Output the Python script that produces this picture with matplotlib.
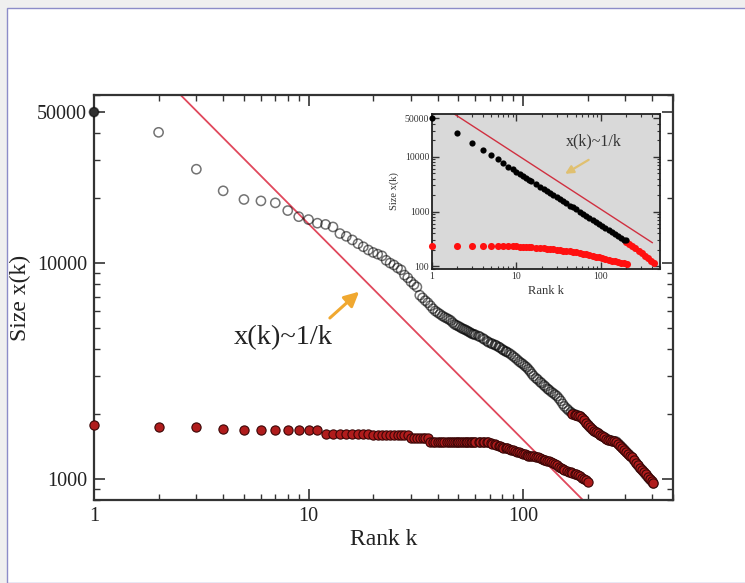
import numpy as np
import matplotlib.pyplot as plt
from matplotlib.patches import Rectangle
from matplotlib.ticker import NullFormatter, LogLocator

plt.rcParams['font.family'] = ['Liberation Serif', 'DejaVu Serif']

# main panel: ranks shared by both series
rank_head = [1, 2, 3, 4, 5, 6, 7, 8, 9, 10, 11, 12, 13, 14, 15, 16, 17, 18, 19, 20,
             21, 22, 23, 24, 25, 26, 27, 28, 29, 30, 31, 32, 33, 34, 35, 36, 37, 38, 39]
rank_body = [40, 41, 42, 43, 44, 45, 46, 47, 48, 49, 50, 51, 52, 53, 54, 55, 56, 57, 58,
             59, 60, 62, 63, 65, 66, 68, 69, 71, 72, 74, 75, 77, 78, 80, 81, 83, 84, 86,
             88, 90, 92, 94, 96, 98, 100, 102, 104, 106, 108, 110, 112, 115, 117, 120, 122,
             125, 127, 130, 132, 135, 138, 141, 144, 147, 150, 153, 156, 160, 163, 167, 170,
             174, 177, 181, 185, 189, 193, 197, 201]
rank_tail = [205, 210, 214, 219, 224, 229, 234, 239, 244, 250, 255, 261, 266, 272, 278,
             284, 290, 296, 302, 309, 315, 322, 329, 336, 343, 350, 358, 365, 373, 381,
             389, 397, 405]

# upper series (open circles)
size_up_head = [50000, 40300, 27200, 21600, 19700, 19400, 19000, 17500, 16400, 15900,
                15300, 15100, 14700, 13700, 13300, 12800, 12300, 11900, 11500, 11200,
                11000, 10800, 10300, 10000, 9800, 9500, 9300, 8800, 8550, 8200,
                7950, 7750, 7100, 6900, 6700, 6550, 6350, 6150, 6000]
size_up_body = [5900, 5800, 5700, 5620, 5560, 5490, 5420, 5300, 5200, 5150, 5100, 5040,
                4980, 4940, 4900, 4850, 4800, 4750, 4700, 4680, 4650, 4590, 4560, 4480,
                4430, 4350, 4300, 4250, 4220, 4180, 4150, 4090, 4060, 3990, 3950, 3900,
                3880, 3830, 3770, 3700, 3640, 3570, 3500, 3450, 3400, 3340, 3290, 3220,
                3150, 3070, 3000, 2930, 2890, 2820, 2780, 2720, 2680, 2620, 2590, 2540,
                2500, 2460, 2420, 2360, 2300, 2230, 2170, 2120, 2080, 2040, 2010, 1990,
                1980, 1965, 1950, 1910, 1870, 1820, 1780]
size_up_tail = [1740, 1700, 1670, 1650, 1630, 1600, 1580, 1560, 1540, 1520, 1510, 1500,
                1495, 1490, 1460, 1430, 1400, 1370, 1340, 1310, 1285, 1260, 1225, 1190,
                1160, 1130, 1105, 1080, 1050, 1025, 1000, 980, 955]
red_from = 170   # upper points from this rank on are drawn red

# lower series (filled red)
size_low_head = [1780, 1740, 1740, 1700, 1690, 1690, 1690, 1690, 1690, 1690,
                 1680, 1620, 1620, 1620, 1620, 1620, 1620, 1620, 1620, 1600,
                 1600, 1600, 1600, 1600, 1600, 1600, 1600, 1600, 1600, 1550,
                 1550, 1550, 1550, 1550, 1550, 1550, 1490, 1490, 1490]
size_low_body = [1490, 1490, 1490, 1490, 1490, 1490, 1490, 1490, 1490, 1490, 1490, 1490,
                 1490, 1490, 1490, 1490, 1490, 1490, 1490, 1490, 1490, 1490, 1490, 1490,
                 1490, 1485, 1480, 1470, 1460, 1450, 1440, 1430, 1420, 1410, 1400, 1395,
                 1390, 1380, 1370, 1360, 1350, 1340, 1330, 1320, 1310, 1300, 1290, 1285,
                 1280, 1278, 1275, 1270, 1265, 1250, 1240, 1230, 1220, 1215, 1210, 1200,
                 1190, 1175, 1160, 1140, 1120, 1110, 1100, 1090, 1080, 1075, 1070, 1060,
                 1050, 1040, 1030, 1015, 1000, 985, 965]

# fitted 1/k guide line (end points)
fit_k = [2.0, 200]
fit_x = [76000, 760]

# inset data
in_rank_black = [1, 2, 3, 4, 5, 6, 7, 8, 9, 10, 11, 12, 13, 14, 15, 17, 19, 21, 23, 25,
                 27, 30, 33, 36, 39, 43, 47, 51, 56, 61, 67, 73, 80, 87, 95, 104, 113,
                 123, 134, 146, 159, 173, 188, 197]
in_size_black = [50000, 27600, 18100, 13200, 10700, 9040, 7540, 6600, 5900, 5300,
                 4850, 4450, 4120, 3830, 3580, 3170, 2850, 2590, 2370, 2180,
                 2030, 1830, 1670, 1540, 1420, 1290, 1190, 1100, 1000, 920, 840, 775,
                 710, 650, 600, 550, 505, 465, 430, 395, 365, 335, 310, 298]
in_rank_tail = [197, 215, 235, 255, 280, 305, 330, 360, 390, 420]
in_size_tail = [285, 258, 235, 214, 193, 175, 158, 143, 128, 115]
in_rank_low = [1, 2, 3, 4, 5, 6, 7, 8, 9, 10, 11, 12, 13, 14, 15, 17, 19, 21, 23, 25,
               27, 30, 33, 36, 39, 43, 47, 51, 56, 61, 67, 73, 80, 87, 95, 104, 113,
               123, 134, 146, 159, 173, 188, 205]
in_size_low = [240, 240, 240, 240, 238, 238, 236, 235, 234, 233, 230, 228, 226, 225, 224,
               220, 217, 214, 211, 208, 205, 202, 198, 195, 193, 190, 185, 181, 176, 171,
               166, 161, 157, 152, 147, 142, 137, 132, 128, 124, 120, 117, 114, 110]
in_fit_k = [1.7, 405]
in_fit_x = [64700, 272]

rank_up = np.array(rank_head + rank_body + rank_tail)
size_up = np.array(size_up_head + size_up_body + size_up_tail)
rank_low = np.array(rank_head + rank_body)
size_low = np.array(size_low_head + size_low_body)

fig = plt.figure(figsize=(7.45, 5.83), dpi=100)
fig.patch.set_facecolor('#efefef')
fig.patches.append(Rectangle((7 / 745, 0), 1, (583 - 8) / 583, transform=fig.transFigure,
                             facecolor='white', edgecolor='#8c8cc8', lw=1.0, zorder=-10))

# ---- main axes ----
ax = fig.add_axes([94 / 745, 1 - 500 / 583, 579 / 745, 405 / 583])
ax.set_xscale('log')
ax.set_yscale('log')
ax.set_xlim(1, 500)
ax.set_ylim(800, 60000)

ax.plot(fit_k, fit_x, color='#e0485c', lw=1.3, zorder=2)

faces = ['#303030'] + ['none'] * (len(rank_up) - 1)
ax.scatter(rank_up, size_up, s=44, facecolors=faces, edgecolors=(0, 0, 0, 0.55),
           linewidths=1.1, zorder=3, clip_on=False)
red = rank_up >= red_from
ax.scatter(rank_up[red], size_up[red], s=44, facecolors='#b01c1c', edgecolors='#3a0606',
           linewidths=0.8, zorder=4, clip_on=False)
ax.scatter(rank_low, size_low, s=44, facecolors='#b01c1c', edgecolors='#3a0606',
           linewidths=0.8, zorder=4, clip_on=False)

ax.set_xticks([1, 10, 100])
ax.set_xticklabels(['1', '10', '100'])
ax.set_yticks([1000, 10000, 50000])
ax.set_yticklabels(['1000', '10000', '50000'])
ax.xaxis.set_minor_locator(LogLocator(subs=np.arange(2, 10)))
ax.yaxis.set_minor_locator(LogLocator(subs=np.arange(2, 10)))
ax.xaxis.set_minor_formatter(NullFormatter())
ax.yaxis.set_minor_formatter(NullFormatter())
ax.tick_params(which='both', direction='in', top=True, right=True, color='#333333')
ax.tick_params(which='major', length=8, width=1.2, labelsize=14.5, pad=5, labelcolor='#222222')
ax.tick_params(which='minor', length=4, width=1.0)
for s in ax.spines.values():
    s.set_linewidth(1.6)
    s.set_color('#333333')

ax.set_xlabel('Rank k', fontsize=17, labelpad=2, color='#222222')
ax.set_ylabel('Size x(k)', fontsize=17, labelpad=4, color='#222222')

ax.text(7.6, 4500, 'x(k)~1/k', fontsize=20.5, ha='center', va='center', color='#222222')
ax.annotate('', xy=(17.6, 7520), xytext=(12.3, 5460),
            arrowprops=dict(arrowstyle='-|>', color='#f0a830', lw=2.2, mutation_scale=22))

# ---- inset ----
axin = fig.add_axes([432 / 745, 1 - 269 / 583, 228 / 745, 155 / 583])
axin.set_facecolor('#d9d9d9')
axin.set_xscale('log')
axin.set_yscale('log')
axin.set_xlim(1, 500)
axin.set_ylim(90, 60000)

axin.plot(in_fit_k, in_fit_x, color='#d03040', lw=1.0, zorder=2)
axin.scatter(in_rank_low, in_size_low, s=26, color='#ff1010', lw=0, zorder=3, clip_on=False)
axin.scatter(in_rank_tail, in_size_tail, s=26, color='#ff1010', lw=0, zorder=3, clip_on=False)
axin.scatter(in_rank_black, in_size_black, s=20, color='black', lw=0, zorder=4, clip_on=False)

axin.set_xticks([1, 10, 100])
axin.set_xticklabels(['1', '10', '100'])
axin.set_yticks([100, 1000, 10000, 50000])
axin.set_yticklabels(['100', '1000', '10000', '50000'])
axin.xaxis.set_minor_locator(LogLocator(subs=np.arange(2, 10)))
axin.yaxis.set_minor_locator(LogLocator(subs=np.arange(2, 10)))
axin.xaxis.set_minor_formatter(NullFormatter())
axin.yaxis.set_minor_formatter(NullFormatter())
axin.tick_params(which='both', direction='in', top=True, right=True, color='#333333')
axin.tick_params(which='major', length=5, width=1.0, labelsize=7, pad=2, labelcolor='#333333')
axin.tick_params(which='minor', length=2.5, width=0.8)
for s in axin.spines.values():
    s.set_linewidth(1.3)
    s.set_color('#222222')

axin.set_xlabel('Rank k', fontsize=9, labelpad=3, color='#333333')
axin.set_ylabel('Size x(k)', fontsize=7.5, labelpad=4, color='#333333')

axin.text(83, 19100, 'x(k)~1/k', fontsize=11.5, ha='center', va='center', color='#333333')
axin.annotate('', xy=(35.3, 4600), xytext=(76.3, 9310),
              arrowprops=dict(arrowstyle='-|>', color='#e0c070', lw=1.6, mutation_scale=12))

fig.savefig('out.png', dpi=100, facecolor=fig.get_facecolor())
